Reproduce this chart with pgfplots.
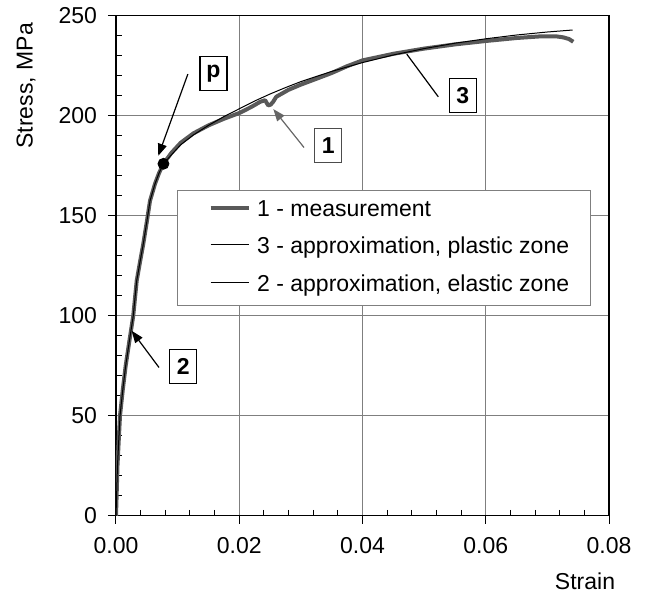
\documentclass[border=0pt]{standalone}
\usepackage{fontspec}
\setmainfont{Liberation Sans}
\usepackage{pgfplots}
\pgfplotsset{compat=1.18}
\usetikzlibrary{arrows.meta}
\definecolor{meas}{HTML}{595959}
\definecolor{gridc}{HTML}{7F7F7F}
\pgfplotstableread{
x y
0 0
0.0001 10
0.00024 25
0.00045 38
0.00065 50
0.0011 63
0.00157 75
0.0022 88
0.0028 100
0.00336 117.5
0.0039 127
0.00443 136
0.005 147
0.00552 157.5
0.00633 166
0.0070 171.5
0.0077 176
0.009 181.5
0.0105 186.5
0.01255 191.2
0.015 195.2
0.0175 198.5
0.0201 201.5
0.022 204.5
0.0234 207
0.0242 207.8
0.0245 206.2
0.0247 205.2
0.0251 205.6
0.0255 207
0.026 209.5
0.028 213
0.030 215.6
0.032 217.9
0.035 221.4
0.0375 224.8
0.040 227.7
0.045 231
0.050 233.6
0.055 235.7
0.060 237.4
0.065 238.9
0.0688 239.7
0.0715 239.7
0.0726 239.2
0.0735 238.4
0.0742 237
}\meas
\pgfplotstableread{
x y
0.0077 176
0.009 180.5
0.0105 185.5
0.0125 190.3
0.015 195.2
0.0175 199.6
0.020 203.5
0.0225 207.4
0.025 210.9
0.0275 214.1
0.030 217.1
0.035 222.2
0.040 226.6
0.045 230.4
0.050 233.6
0.055 236.3
0.060 238.5
0.065 240.4
0.070 241.9
0.0741 242.9
}\plastic
\pgfplotstableread{
x y
0 0
0.0001 10
0.00024 25
0.00045 38
0.00065 50
0.0011 63
0.00157 75
0.0022 88
0.0028 100
0.00336 117.5
0.0039 127
0.00443 136
0.005 147
0.00552 157.5
0.00633 166
0.0070 171.5
0.0077 176
}\elastic
\pgfplotstableread{
x y
0.0077 176
}\ppoint
\begin{document}
\fontsize{11.5pt}{13.5pt}\selectfont
\begin{tikzpicture}
\path (-58pt,-43pt) rectangle (265.5pt,257.5pt);
\begin{axis}[
  at={(0pt,0pt)}, anchor=south west,
  width=246.5pt, height=250pt, scale only axis,
  xmin=0, xmax=0.08, ymin=0, ymax=250,
  xtick={0,0.02,0.04,0.06,0.08},
  ytick={0,50,100,150,200,250},
  minor x tick num=4, minor y tick num=4,
  tick align=outside, major tick length=4pt, minor tick length=-3pt,
  tick pos=left,
  grid=major,
  major grid style={color=gridc, line width=0.5pt},
  axis line style={line width=0.6pt},
  tick style={black, line width=0.5pt},
  scaled x ticks=false,
  xticklabel style={/pgf/number format/fixed, /pgf/number format/fixed zerofill, /pgf/number format/precision=2, /pgf/number format/assume math mode=true, /tikz/yshift=-3pt},
  yticklabel style={/pgf/number format/assume math mode=true, /tikz/xshift=-1.5pt},
  every tick label/.append style={font=\fontsize{11.5pt}{13.5pt}\selectfont},
  legend cell align=left,
  legend image code/.code={\path (-5pt,0pt); \draw[#1] (0pt,1.5pt) -- (19pt,1.5pt);},
  legend style={at={(axis cs:0.0099,163)}, anchor=north west,
    draw=gridc, line width=0.6pt, fill=white,
    inner xsep=10.5pt, inner ysep=4.6pt,
    font=\fontsize{11.5pt}{13.5pt}\selectfont,
    nodes={inner sep=0pt, text height=8.5pt, text depth=2.5pt},
    row sep=7.6pt,
    /tikz/every odd column/.append style={column sep=3.3pt}},
]
\addplot[meas, line width=2pt, line join=round] table {\meas};
\addlegendentry{1 - measurement}
\addplot[black, line width=0.5pt] table {\plastic};
\addlegendentry{3 - approximation, plastic zone}
\addplot[black, line width=0.5pt] table {\elastic};
\addlegendentry{2 - approximation, elastic zone}
\addplot[only marks, mark=*, mark size=2.75pt, black, forget plot] table {\ppoint};

\node[draw, line width=0.6pt, fill=white, minimum width=13.5pt, minimum height=17pt, inner sep=0pt, font=\bfseries] at (axis cs:0.01582,221.25) {p};
\node[draw, line width=0.6pt, fill=white, minimum width=13.5pt, minimum height=17pt, inner sep=0pt, font=\bfseries] at (axis cs:0.01093,74.6) {2};
\node[draw=black!70, line width=0.6pt, fill=white, minimum width=13.5pt, minimum height=17pt, inner sep=0pt, font=\bfseries] at (axis cs:0.03446,185) {1};
\node[draw, line width=0.6pt, fill=white, minimum width=13.5pt, minimum height=17pt, inner sep=0pt, font=\bfseries] at (axis cs:0.05626,210) {3};
\draw[line width=0.6pt, -{Triangle[length=6pt,width=4.5pt]}] (axis cs:0.01166,220.85) -- (axis cs:0.00686,180);
\draw[line width=0.6pt, -{Triangle[length=6pt,width=4.5pt]}] (axis cs:0.00698,74.15) -- (axis cs:0.00255,92.5);
\draw[black!60, line width=0.6pt, -{Triangle[length=6pt,width=4.5pt]}] (axis cs:0.03051,184.15) -- (axis cs:0.02553,203.35);
\draw[line width=0.6pt] (axis cs:0.0523,209.5) -- (axis cs:0.04718,230.85);
\end{axis}
\node at (234.5pt,-32.5pt) {Strain};
\node[rotate=90] at (-45pt,215pt) {Stress, MPa};
\end{tikzpicture}
\end{document}
